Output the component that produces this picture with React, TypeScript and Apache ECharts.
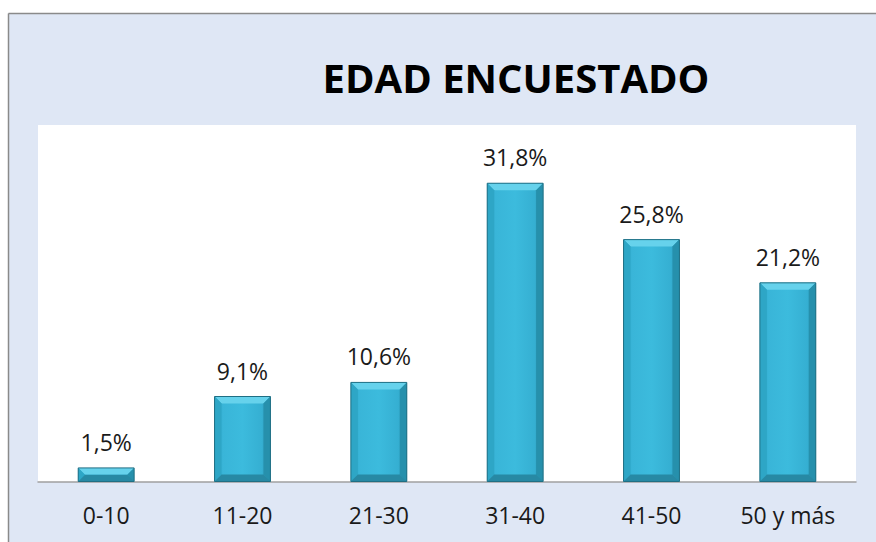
import React, { useEffect, useRef } from "react";
import * as echarts from "echarts";

const categories = ["0-10", "11-20", "21-30", "31-40", "41-50", "50 y más"];
const values = [1.5, 9.1, 10.6, 31.8, 25.8, 21.2];
const titleText = "EDAD ENCUESTADO";

const fmt = (v: number) => v.toFixed(1).replace(".", ",") + "%";

export default function App() {
  const ref = useRef<HTMLDivElement>(null);
  useEffect(() => {
    if (!ref.current) return;
    const chart = echarts.init(ref.current, null, { renderer: "svg" });
    const option: any = {
      animation: false,
      backgroundColor: "#dfe7f5",
      graphic: [
        { type: "rect", shape: { x: 0, y: 0, width: 876, height: 13 }, style: { fill: "#ffffff" }, z: 100 },
        { type: "rect", shape: { x: 0, y: 0, width: 8, height: 542 }, style: { fill: "#ffffff" }, z: 100 },
        { type: "line", shape: { x1: 8.5, y1: 13.5, x2: 876, y2: 13.5 }, style: { stroke: "#8a8a8a", lineWidth: 1.5 }, z: 101 },
        { type: "line", shape: { x1: 8.5, y1: 13.5, x2: 8.5, y2: 542 }, style: { stroke: "#8a8a8a", lineWidth: 1.5 }, z: 101 },
        {
          type: "text",
          x: 516,
          y: 77,
          z: 101,
          style: {
            text: titleText,
            fill: "#000000",
            font: "bold 40px 'Open Sans', sans-serif",
            textAlign: "center",
            textVerticalAlign: "middle",
          },
        },
      ],
      grid: {
        left: 38,
        right: 20,
        top: 125,
        bottom: 60,
        show: true,
        backgroundColor: "#ffffff",
        borderWidth: 0,
      },
      xAxis: {
        type: "category",
        data: categories,
        axisLine: { show: true, lineStyle: { color: "#a0a0a0", width: 1.5 } },
        axisTick: { show: false },
        axisLabel: {
          color: "#1a1a1a",
          fontFamily: "'Open Sans', sans-serif",
          fontSize: 23,
          margin: 21,
        },
      },
      yAxis: {
        type: "value",
        min: 0,
        max: 38,
        show: false,
        splitLine: { show: false },
      },
      series: [
        {
          type: "custom",
          data: values.map((v, i) => [i, v]),
          encode: { x: 0, y: 1 },
          z: 5,
          renderItem: (params: any, api: any) => {
            const idx = api.value(0);
            const v = api.value(1);
            const top = api.coord([idx, v]);
            const base = api.coord([idx, 0]);
            const bw = api.size([1, 0])[0] * 0.41;
            const x0 = top[0] - bw / 2;
            const x1 = top[0] + bw / 2;
            const y0 = top[1];
            const y1 = base[1] - 0.5;
            const h = y1 - y0;
            const b = Math.min(7, h / 2, bw / 2);
            const grad = new echarts.graphic.LinearGradient(0, 0, 1, 0, [
              { offset: 0, color: "#2c9fbf" },
              { offset: 0.15, color: "#39b5d8" },
              { offset: 0.5, color: "#3cbbdd" },
              { offset: 0.85, color: "#35afd2" },
              { offset: 1, color: "#27889f" },
            ]);
            return {
              type: "group",
              children: [
                { type: "rect", shape: { x: x0, y: y0, width: bw, height: h }, style: { fill: grad } },
                {
                  type: "polygon",
                  shape: { points: [[x0, y0], [x1, y0], [x1 - b, y0 + b], [x0 + b, y0 + b]] },
                  style: { fill: "#66d2ec" },
                },
                {
                  type: "polygon",
                  shape: { points: [[x0, y0], [x0 + b, y0 + b], [x0 + b, y1 - b], [x0, y1]] },
                  style: { fill: "#2ea6c6" },
                },
                {
                  type: "polygon",
                  shape: { points: [[x1, y0], [x1, y1], [x1 - b, y1 - b], [x1 - b, y0 + b]] },
                  style: { fill: "#2690ac" },
                },
                {
                  type: "polygon",
                  shape: { points: [[x0, y1], [x0 + b, y1 - b], [x1 - b, y1 - b], [x1, y1]] },
                  style: { fill: "#2789a4" },
                },
                {
                  type: "rect",
                  shape: { x: x0, y: y0, width: bw, height: h },
                  style: { fill: "none", stroke: "#1f6f84", lineWidth: 1 },
                },
                {
                  type: "text",
                  x: top[0],
                  y: y0 - 26,
                  style: {
                    text: fmt(v),
                    fill: "#1a1a1a",
                    font: "23px 'Open Sans', sans-serif",
                    textAlign: "center",
                    textVerticalAlign: "middle",
                  },
                },
              ],
            };
          },
        },
      ],
    };
    chart.setOption(option);
    return () => chart.dispose();
  }, []);
  return (
    <div
      ref={ref}
      style={{ position: "fixed", left: 0, top: 0, width: 876, height: 542 }}
    />
  );
}
